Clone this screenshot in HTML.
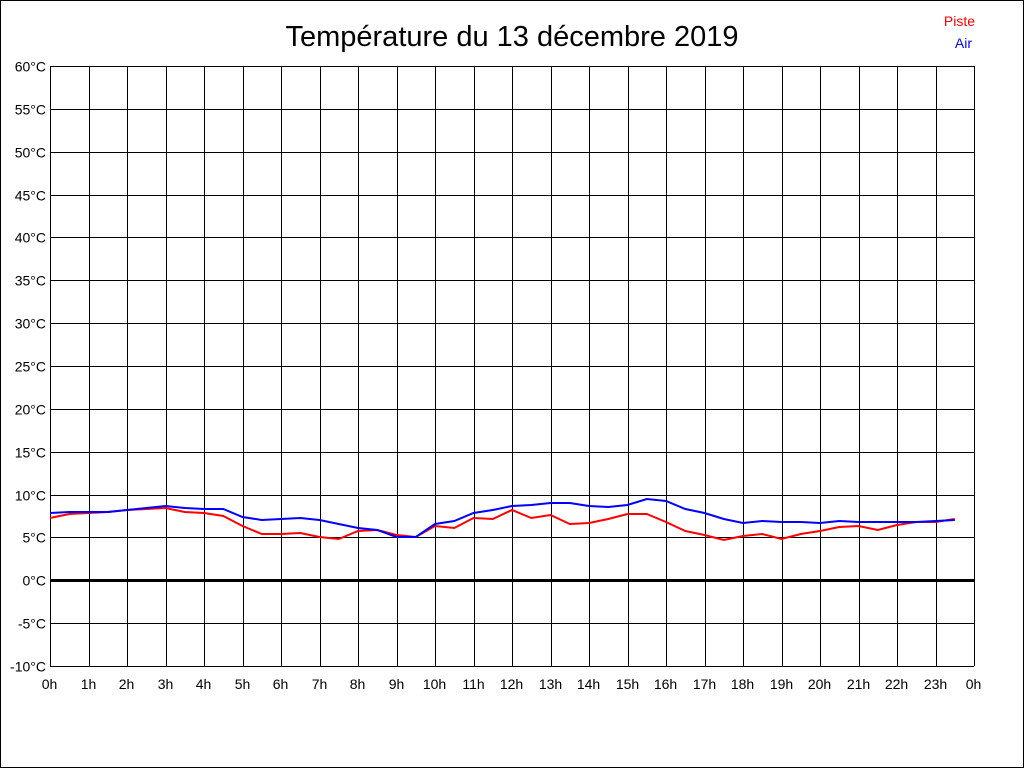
<!DOCTYPE html>
<html><head><meta charset="utf-8"><style>
html,body{margin:0;padding:0;background:#fff}
svg{display:block}
text{font-family:"Liberation Sans",Arial,sans-serif}
</style></head><body>
<svg id="s" width="1024" height="768" xmlns="http://www.w3.org/2000/svg">
<rect x="0.5" y="0.5" width="1023" height="767" fill="#fff" stroke="#000"/>
<text x="512" y="46" font-size="29" text-anchor="middle">Température du 13 décembre 2019</text>
<text x="975" y="26" font-size="14" fill="#f00" text-anchor="end">Piste</text>
<text x="972" y="48" font-size="14" fill="#00f" text-anchor="end">Air</text>
<g id="g"></g>
</svg>
<script>
var g=document.getElementById('g'),h='';
for(var i=0;i<=24;i++){var x=Math.round(50+38.5*i)+0.5;h+='<line x1="'+x+'" y1="66" x2="'+x+'" y2="666" stroke="#000"/>';
h+='<text x="'+(x-1)+'" y="689" font-size="14" text-anchor="middle">'+(i%24)+'h</text>';}
for(var k=0;k<=14;k++){var t=60-5*k;var y=Math.round(66+600*k/14)+0.5;
h+='<line x1="50" y1="'+y+'" x2="974" y2="'+y+'" stroke="#000" stroke-width="'+(t==0?3:1)+'"/>';
h+='<text x="46" y="'+(y+5)+'" font-size="14" text-anchor="end">'+t+'°C</text>';}
var blue=[513,512,512,512,510,508,506,508,509,509,517,520,519,518,520,524,528,530,537,537,524,521,513,510,506,505,503,503,506,507,505,499,501,509,513,519,523,521,522,522,523,521,522,522,522,522,521,520];
var red=[518,514,513,512,510,509,508,512,513,516,526,534,534,533,537,539,531,530,535,537,526,528,518,519,510,518,515,524,523,519,514,514,522,531,535,540,536,534,539,534,531,527,526,530,525,522,522,519];
function pl(a,c){var p=a.map(function(v,i){return (50+19.25*i).toFixed(1)+','+v}).join(' ');return '<polyline points="'+p+'" fill="none" stroke="'+c+'" stroke-width="2"/>';}
h+=pl(red,'#f00')+pl(blue,'#00f');
g.innerHTML=h;
</script>
</body></html>
